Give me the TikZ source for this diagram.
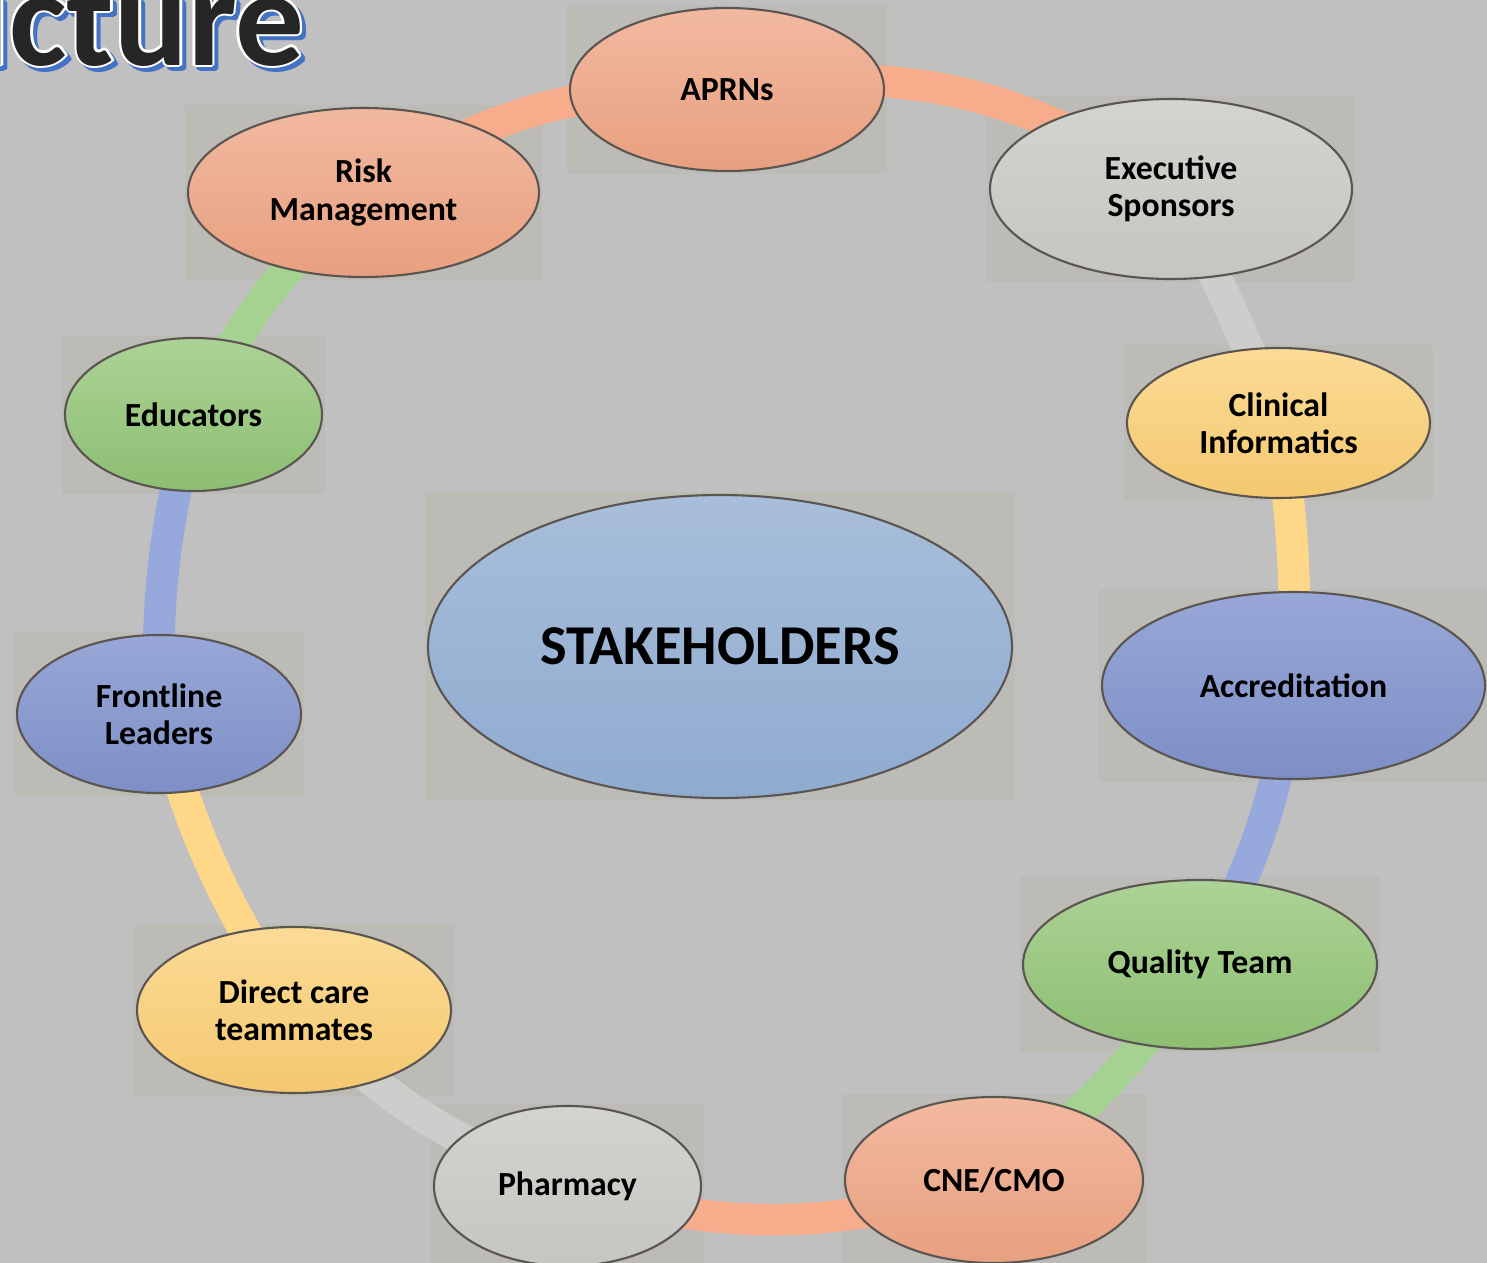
\documentclass[tikz,border=0pt]{standalone}
\usepackage{fontspec}
\setmainfont{Carlito}
\usetikzlibrary{shapes.geometric, positioning}
\pgfdeclarelayer{boxes}
\pgfdeclarelayer{ring}
\pgfsetlayers{boxes,ring,main}

\definecolor{slate}{HTML}{C0C0C0}
\definecolor{boxgray}{HTML}{BCBBB6}
\definecolor{rimgray}{HTML}{5A5550}
\definecolor{salmonT}{HTML}{F2B9A0}
\definecolor{salmonB}{HTML}{E8A07F}
\definecolor{ashT}{HTML}{D3D3CF}
\definecolor{ashB}{HTML}{C5C5C1}
\definecolor{sunT}{HTML}{FBDB96}
\definecolor{sunB}{HTML}{F4C870}
\definecolor{denimT}{HTML}{98A7D7}
\definecolor{denimB}{HTML}{7D8FC6}
\definecolor{leafT}{HTML}{ACD395}
\definecolor{leafB}{HTML}{8CBE72}
\definecolor{hubT}{HTML}{A8BEDA}
\definecolor{hubB}{HTML}{8FABD0}
\definecolor{bandsalmon}{HTML}{F7AD8C}
\definecolor{bandash}{HTML}{CDCDCB}
\definecolor{bandsun}{HTML}{FFD789}
\definecolor{banddenim}{HTML}{96A8DC}
\definecolor{bandleaf}{HTML}{A5D291}
\definecolor{titleink}{HTML}{262626}
\definecolor{titleblue}{HTML}{4472C4}

\tikzset{
  party/.style={ellipse, draw=rimgray, line width=0.6pt, inner sep=0pt, align=center,
    font=\fontsize{9.6}{10.6}\selectfont\bfseries},
  dims/.style 2 args={minimum width=#1*0.01cm, minimum height=#2*0.01cm},
  salmonfill/.style={top color=salmonT, bottom color=salmonB},
  ashfill/.style={top color=ashT, bottom color=ashB},
  sunfill/.style={top color=sunT, bottom color=sunB},
  denimfill/.style={top color=denimT, bottom color=denimB},
  leaffill/.style={top color=leafT, bottom color=leafB},
  hubfill/.style={top color=hubT, bottom color=hubB},
  ringband/.style={line width=9pt, line cap=butt},
  titletext/.style={anchor=base east, inner sep=0pt, font=\fontsize{39}{43}\selectfont\bfseries}
}

\begin{document}
\begin{tikzpicture}[x=0.01cm, y=-0.01cm]
  \useasboundingbox (0,0) rectangle (1487,1263);
  \clip (0,0) rectangle (1487,1263);

  % --- Title remnant ---
  \foreach \a [count=\k] in {0,45,...,315}
    \node[titletext, text=titleblue] (shade\k) at ({309+2.5*cos(\a)},{69+2.5*sin(\a)}) {Structure};
  \foreach \a [count=\k] in {0,45,...,315}
    \node[titletext, text=white] (halo\k) at ({305+2.5*cos(\a)},{65+2.5*sin(\a)}) {Structure};
  \node[titletext, text=titleink] (title) at (305,65) {Structure};

  % --- Stakeholder ovals ---
  \node[party, salmonfill, dims={314}{163}] (aprn)  at (727,89.5)    {APRNs};
  \node[party, ashfill,    dims={362}{180}] (exec)  at (1171,189)    {Executive\\Sponsors};
  \node[party, sunfill,    dims={303}{150}] (clin)  at (1278.5,423)  {Clinical\\Informatics};
  \node[party, denimfill,  dims={383}{187}] (accr)  at (1293.5,685.5) {Accreditation};
  \node[party, leaffill,   dims={354}{169}] (qual)  at (1200,964.5)  {Quality Team};
  \node[party, salmonfill, dims={298}{166}] (cne)   at (994,1180)    {CNE/CMO};
  \node[party, ashfill,    dims={267}{160}] (pharm) at (567.5,1186)  {Pharmacy};
  \node[party, sunfill,    dims={314}{166}] (care)  at (294,1010)    {Direct care\\teammates};
  \node[party, denimfill,  dims={284}{158}] (front) at (159,714)     {Frontline\\Leaders};
  \node[party, leaffill,   dims={257}{153}] (edu)   at (193.5,414.5) {Educators};
  \node[party, salmonfill, dims={351}{169}] (risk)  at (363.5,192.5) {Risk\\Management};
  \node[party, hubfill,    dims={584}{303}, font=\fontsize{16}{19}\selectfont\bfseries] (hub) at (720,646.5) {STAKEHOLDERS};

  % --- Backdrop and boxes ---
  \begin{pgfonlayer}{boxes}
    \fill[slate] (0,0) rectangle (1487,1263);
    \foreach \n in {aprn,exec,clin,accr,qual,cne,pharm,care,front,edu,risk,hub}
      \fill[boxgray] ([shift={(-1.5,-1.5)}]\n.west |- \n.north) rectangle ([shift={(1.5,1.5)}]\n.east |- \n.south);
  \end{pgfonlayer}

  % --- Ring of connectors ---
  \begin{pgfonlayer}{ring}
    \draw[ringband, bandsalmon] (aprn.center)  to[bend left=21] (exec.center);
    \draw[ringband, bandash]    (exec.center)  to[bend left=3]  (clin.center);
    \draw[ringband, bandsun]    (clin.center)  to[bend left=5]  (accr.center);
    \draw[ringband, banddenim]  (accr.center)  to[bend left=10] (qual.center);
    \draw[ringband, bandleaf]   (qual.center)  to[bend left=10] (cne.center);
    \draw[ringband, bandsalmon] (cne.center)   to[bend left=17] (pharm.center);
    \draw[ringband, bandash]    (pharm.center) to[bend left=12] (care.center);
    \draw[ringband, bandsun]    (care.center)  to[bend left=9]  (front.center);
    \draw[ringband, banddenim]  (front.center) to[bend left=8]  (edu.center);
    \draw[ringband, bandleaf]   (edu.center)   to[bend left=10] (risk.center);
    \draw[ringband, bandsalmon] (risk.center)  to[bend left=17] (aprn.center);
  \end{pgfonlayer}
\end{tikzpicture}
\end{document}
